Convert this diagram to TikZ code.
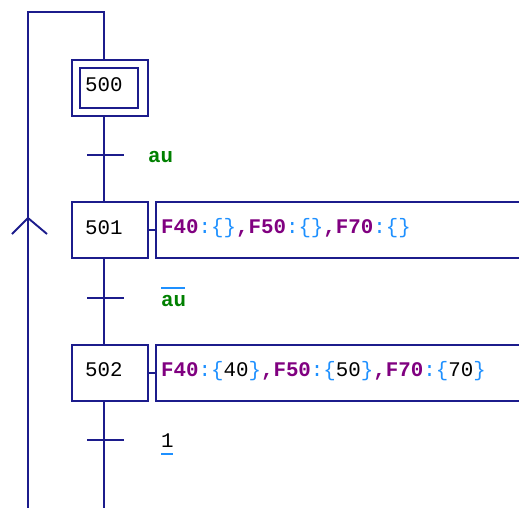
\documentclass[tikz,border=0pt]{standalone}
\usepackage{fontspec}
\newfontfamily\grafmono{Liberation Mono}
\definecolor{grafline}{RGB}{28,28,140}
\definecolor{actname}{RGB}{128,0,128}
\definecolor{actbrace}{RGB}{30,144,255}
\definecolor{condgreen}{RGB}{0,128,0}
\newcommand{\an}[1]{\textcolor{actname}{\bfseries #1}}
\newcommand{\ab}[1]{\textcolor{actbrace}{#1}}
\begin{document}
\begin{tikzpicture}[x=1pt,y=-1pt,
  every node/.style={font=\grafmono\fontsize{20.8}{24}\selectfont},
  wire/.style={draw=grafline,line width=1.9pt},
  stepbox/.style={draw=grafline,line width=1.9pt,minimum width=76pt,minimum height=56pt,inner sep=0pt},
  initbox/.style={draw=grafline,line width=1.9pt,minimum width=58pt,minimum height=40pt,inner sep=0pt},
  actbox/.style={draw=none,minimum width=366pt,minimum height=56pt,inner sep=0pt,anchor=west},
  txt/.style={anchor=base west,inner sep=0pt},
  cond/.style={txt,text=condgreen,font=\grafmono\bfseries\fontsize{20.8}{24}\selectfont},
  barmark/.style={draw=actbrace,line width=1.6pt}]
\useasboundingbox (0,0) rectangle (519,508);

% steps
\node[stepbox] (s500) at (110,88) {};
\node[initbox] (s500i) at (109,88) {};
\node[stepbox] (s501) at (110,230) {};
\node[stepbox] (s502) at (110,373) {};
\node[txt] (n500) at (85,92) {500};
\node[txt] (n501) at (85,234) {501};
\node[txt] (n502) at (85,376) {502};

% action blocks (open to the right)
\node[actbox] (a501) at (156,230) {};
\node[actbox] (a502) at (156,373) {};
\foreach \a in {a501,a502}
  \draw[wire] (\a.north east) -- (\a.north west) -- (\a.south west) -- (\a.south east);
\draw[wire] (s501.east) -- (a501.west);
\draw[wire] (s502.east) -- (a502.west);
\node[txt] (t501) at (161,233.5) {\an{F40}\ab{:\{\}}\an{,F50}\ab{:\{\}}\an{,F70}\ab{:\{\}}};
\node[txt] (t502) at (161,376) {\an{F40}\ab{:\{}40\ab{\}}\an{,F50}\ab{:\{}50\ab{\}}\an{,F70}\ab{:\{}70\ab{\}}};

% transitions
\coordinate (tr1) at (104,155);
\coordinate (tr2) at (104,298);
\coordinate (tr3) at (104,440);
\foreach \t in {tr1,tr2,tr3}
  \draw[wire] (\t) ++(-17,0) -- ++(37,0);
\node[cond] (c1) at (148,162) {au};
\node[cond] (c2) at (161,306) {au};
\draw[barmark] (c2.base west) ++(0,-18) -- ++(24,0);
\node[txt] (c3) at (161,447) {1};
\draw[barmark] (c3.base west) ++(0,7) -- ++(12,0);

% main line (x = 104) and loop-back rail
\coordinate (top) at (104,12);
\coordinate (railtop) at (28,12);
\coordinate (railbot) at (28,508);
\coordinate (bot) at (104,508);
\coordinate (tip) at (28,218);
\draw[wire] (s500.north -| top) -- (top) -- (railtop) -- (railbot);
\draw[wire] (s500.south -| top) -- (s501.north -| top);
\draw[wire] (s501.south -| top) -- (s502.north -| top);
\draw[wire] (s502.south -| top) -- (bot);
\draw[wire] (tip) ++(-16,16) -- (tip) -- ++(19,16);
\end{tikzpicture}
\end{document}
